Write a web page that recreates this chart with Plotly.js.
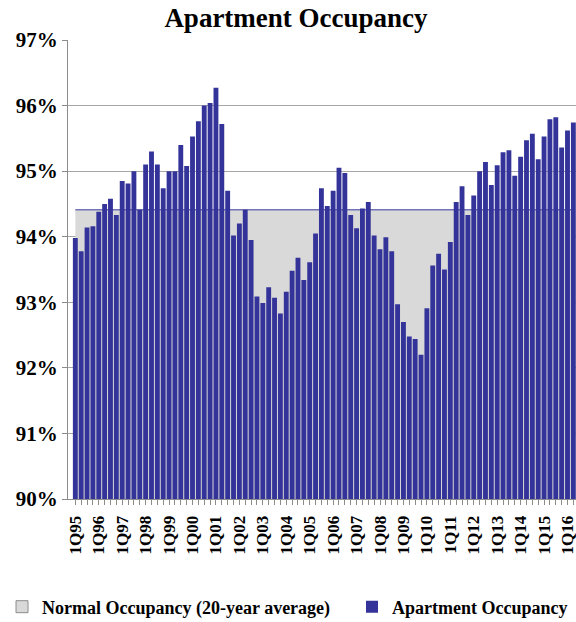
<!DOCTYPE html>
<html>
<head>
<meta charset="utf-8">
<script src="https://cdn.plot.ly/plotly-3.0.1.min.js"></script>
<style>html,body{margin:0;padding:0;background:#fff;}#chart{width:576px;height:622px;}</style>
</head>
<body>
<div id="chart"></div>
<script>
const quarters = [
"1Q95","2Q95","3Q95","4Q95","1Q96","2Q96","3Q96","4Q96","1Q97","2Q97","3Q97","4Q97",
"1Q98","2Q98","3Q98","4Q98","1Q99","2Q99","3Q99","4Q99","1Q00","2Q00","3Q00","4Q00",
"1Q01","2Q01","3Q01","4Q01","1Q02","2Q02","3Q02","4Q02","1Q03","2Q03","3Q03","4Q03",
"1Q04","2Q04","3Q04","4Q04","1Q05","2Q05","3Q05","4Q05","1Q06","2Q06","3Q06","4Q06",
"1Q07","2Q07","3Q07","4Q07","1Q08","2Q08","3Q08","4Q08","1Q09","2Q09","3Q09","4Q09",
"1Q10","2Q10","3Q10","4Q10","1Q11","2Q11","3Q11","4Q11","1Q12","2Q12","3Q12","4Q12",
"1Q13","2Q13","3Q13","4Q13","1Q14","2Q14","3Q14","4Q14","1Q15","2Q15","3Q15","4Q15",
"1Q16","2Q16"];
const occupancy = [
93.98,93.78,94.14,94.16, 94.38,94.50,94.58,94.33, 94.85,94.81,95.00,94.41,
95.10,95.30,95.10,94.74, 95.00,95.00,95.40,95.08, 95.53,95.76,96.00,96.04,
96.27,95.72,94.70,94.02, 94.20,94.41,93.95,93.09, 92.99,93.23,93.07,92.83,
93.16,93.48,93.68,93.34, 93.61,94.05,94.74,94.47, 94.70,95.05,94.97,94.33,
94.13,94.43,94.53,94.02, 93.81,93.99,93.78,92.97, 92.70,92.48,92.44,92.20,
92.91,93.56,93.74,93.50, 93.92,94.53,94.77,94.33, 94.63,95.00,95.14,94.79,
95.09,95.29,95.32,94.93, 95.22,95.47,95.57,95.18, 95.53,95.79,95.82,95.36,
95.62,95.74];
const normalAverage = 94.41;
const normalSeries = quarters.map(() => normalAverage);
const tickLabels = ["1Q95","1Q96","1Q97","1Q98","1Q99","1Q00","1Q01","1Q02","1Q03","1Q04","1Q05",
"1Q06","1Q07","1Q08","1Q09","1Q10","1Q11","1Q12","1Q13","1Q14","1Q15","1Q16"];
const yTicks = [90,91,92,93,94,95,96,97];

const serif = "Liberation Serif, Times New Roman, serif";
const xRange = [-1.25, 85.45];
const yRange = [90, 97];

const traces = [
  {
    type: "scatter", mode: "lines", x: quarters, y: normalSeries,
    xaxis: "x", yaxis: "y",
    fill: "tozeroy", fillcolor: "#d9d9d9",
    line: {color: "#7373b8", width: 1.5},
    showlegend: false, hoverinfo: "skip"
  },
  {
    type: "bar", x: [quarters[0]], y: [null], xaxis: "x2", yaxis: "y2",
    name: "Normal Occupancy (20-year average)", legend: "legend",
    marker: {color: "#d9d9d9", line: {color: "#8c8c8c", width: 1}}
  },
  {
    type: "bar", x: quarters, y: occupancy, xaxis: "x2", yaxis: "y2",
    name: "Apartment Occupancy", legend: "legend2",
    marker: {color: "#333399", line: {width: 0}}
  }
];

const legendFont = {family: serif, size: 18, color: "#000", weight: "bold"};
const legendY = 1 - 607 / 622;

const layout = {
  width: 576, height: 622,
  margin: {l: 68, r: 0, t: 40, b: 123, autoexpand: false},
  paper_bgcolor: "#ffffff", plot_bgcolor: "#ffffff",
  barmode: "overlay", bargap: 0.17,
  title: {
    text: "<b>Apartment Occupancy</b>",
    font: {family: serif, size: 27, color: "#000"},
    x: 296 / 576, xanchor: "center", xref: "container",
    y: 0.971, yanchor: "middle", yref: "container"
  },
  xaxis: {
    type: "category", range: xRange, automargin: false,
    tickmode: "array", tickvals: quarters,
    ticktext: quarters.map(q => tickLabels.includes(q) ? "<b>" + q + "</b>" : ""),
    tickangle: -90, tickfont: {family: serif, size: 17, color: "#000"},
    ticklabelstandoff: 4,
    showgrid: false, showline: true, linecolor: "#8c8c8c", linewidth: 1,
    ticks: "outside", ticklen: 5, tickcolor: "#8c8c8c", zeroline: false
  },
  xaxis2: {
    type: "category", overlaying: "x", matches: "x", range: xRange,
    visible: false, anchor: "y2"
  },
  yaxis: {
    range: yRange, tickmode: "array", tickvals: yTicks, automargin: false,
    ticktext: yTicks.map(v => "<b>" + v + "%</b>"),
    tickfont: {family: serif, size: 21, color: "#000"},
    showgrid: true, gridcolor: "#a6a6a6", gridwidth: 1,
    showline: true, linecolor: "#8c8c8c", linewidth: 1,
    ticks: "outside", ticklen: 5, tickcolor: "#8c8c8c",
    zeroline: false
  },
  yaxis2: {
    range: yRange, overlaying: "y", visible: false, anchor: "x2"
  },
  legend: {
    orientation: "h", xref: "container", yref: "container",
    x: 2 / 576, xanchor: "left", y: legendY, yanchor: "middle",
    font: legendFont, itemwidth: 30, bgcolor: "rgba(0,0,0,0)"
  },
  legend2: {
    orientation: "h", xref: "container", yref: "container",
    x: 352 / 576, xanchor: "left", y: legendY, yanchor: "middle",
    font: legendFont, itemwidth: 30, bgcolor: "rgba(0,0,0,0)"
  }
};

Plotly.newPlot("chart", traces, layout, {displayModeBar: false, staticPlot: true});
</script>
</body>
</html>
